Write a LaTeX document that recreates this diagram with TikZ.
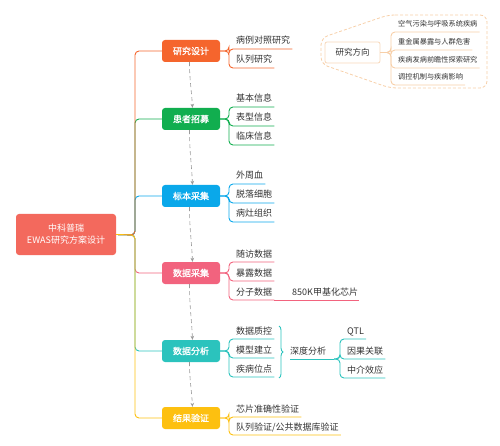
\documentclass[tikz,border=0pt]{standalone}
\usepackage{fontspec}
\setmainfont{Noto Sans CJK SC}
\newfontfamily\boxfont[FakeBold=1.2]{Noto Sans CJK SC}
\usetikzlibrary{decorations.pathreplacing,arrows.meta,calc}
\definecolor{rootc}{HTML}{F3695D}
\definecolor{orangec}{HTML}{F5652D}
\definecolor{greenc}{HTML}{11AE4F}
\definecolor{bluec}{HTML}{0AA8EA}
\definecolor{pinkc}{HTML}{F2637E}
\definecolor{tealc}{HTML}{2BC3BD}
\definecolor{yellowc}{HTML}{FDC010}
\definecolor{txt}{HTML}{333333}
\definecolor{flowgray}{HTML}{9A9A9A}
\definecolor{calline}{HTML}{F7CFA8}
\definecolor{calbox}{HTML}{F8D8BA}
\tikzset{
  mainbox/.style={rounded corners=3pt, minimum width=58pt, minimum height=22pt, inner sep=0pt, text=white, font=\boxfont\fontsize{9}{10}\selectfont},
  rootbox/.style={rounded corners=3pt, fill=rootc, minimum width=100pt, minimum height=41pt, inner sep=0pt, text=white, align=center, font=\fontsize{9}{12}\selectfont},
  leaftext/.style={inner sep=0pt, anchor=base west, text=txt, font=\fontsize{9}{10}\selectfont},
  smalltext/.style={inner sep=0pt, anchor=base west, text=txt, font=\fontsize{7.2}{8}\selectfont},
  conn/.style={line width=0.9pt, rounded corners=4pt},
  flow/.style={draw=flowgray, dash pattern=on 4pt off 3pt, line width=0.6pt, -{Stealth[length=4pt,width=3.5pt]}},
}
% parent, name, forkx, u, color, style, text
\newcommand\leafitem[7]{%
  \node[#6] (#2) at (#3+7,#4-5) {#7};
  \draw[conn,draw=#5] (#1.east) -| (#3,#4) -- ($(#2.east |- #3,#4)+(2,0)$);
}
\begin{document}
\begin{tikzpicture}[x=1pt,y=-1pt]
\useasboundingbox (0,0) rectangle (500,446);

% root
\node[rootbox] (root) at (66,234.5) {中科普瑞\\EWAS研究方案设计};

% level-1 boxes
\node[mainbox, fill=orangec] (yj) at (191,51) {研究设计};
\node[mainbox, fill=greenc] (hz) at (191,119) {患者招募};
\node[mainbox, fill=bluec] (bb) at (191,196) {标本采集};
\node[mainbox, fill=pinkc] (sc) at (191,273) {数据采集};
\node[mainbox, fill=tealc] (fx) at (191,351) {数据分析};
\node[mainbox, fill=yellowc] (yz) at (191,418) {结果验证};

% root connectors
\draw[conn,draw=greenc] (root.east) -- (135,235) |- (hz.west);
\draw[conn,draw=bluec] (root.east) -- (135,235) |- (bb.west);
\draw[conn,draw=pinkc] (root.east) -- (135,235) |- (sc.west);
\draw[conn,draw=tealc] (root.east) -- (135,235) |- (fx.west);
\draw[conn,draw=orangec] (root.east) -- (135,235) |- (yj.west);
\draw[conn,draw=yellowc] (root.east) -- (135,235) |- (yz.west);

% flow arrows
\draw[flow] ([xshift=-1.5pt]yj.south) .. controls +(0,18) and +(-1,-18) .. ([xshift=1.5pt]hz.north);
\draw[flow] ([xshift=-1.5pt]hz.south) .. controls +(0,22) and +(-1,-22) .. ([xshift=1.5pt]bb.north);
\draw[flow] ([xshift=-1.5pt]bb.south) .. controls +(0,22) and +(-1,-22) .. ([xshift=1.5pt]sc.north);
\draw[flow] ([xshift=-1.5pt]sc.south) .. controls +(0,22) and +(-1,-22) .. ([xshift=1.5pt]fx.north);
\draw[flow] ([xshift=-1.5pt]fx.south) .. controls +(0,18) and +(-1,-18) .. ([xshift=1.5pt]yz.north);

% leaves
\leafitem{yj}{yj1}{229}{49}{orangec}{leaftext}{病例对照研究}
\leafitem{yj}{yj2}{229}{68}{orangec}{leaftext}{队列研究}

\leafitem{hz}{hz1}{229}{107}{greenc}{leaftext}{基本信息}
\leafitem{hz}{hz2}{229}{126}{greenc}{leaftext}{表型信息}
\leafitem{hz}{hz3}{229}{145}{greenc}{leaftext}{临床信息}

\leafitem{bb}{bb1}{229}{184}{bluec}{leaftext}{外周血}
\leafitem{bb}{bb2}{229}{203}{bluec}{leaftext}{脱落细胞}
\leafitem{bb}{bb3}{229}{222}{bluec}{leaftext}{病灶组织}

\leafitem{sc}{sc1}{229}{262}{pinkc}{leaftext}{随访数据}
\leafitem{sc}{sc2}{229}{281}{pinkc}{leaftext}{暴露数据}
\leafitem{sc}{sc3}{229}{300}{pinkc}{leaftext}{分子数据}
\node[leaftext] (chip) at (292,295) {850K甲基化芯片};
\draw[conn,draw=pinkc] ($(sc3.east |- 229,300)+(2,0)$) -- ($(chip.east |- 229,300)+(1,0)$);

\leafitem{fx}{fx1}{229}{339}{tealc}{leaftext}{数据质控}
\leafitem{fx}{fx2}{229}{358}{tealc}{leaftext}{模型建立}
\leafitem{fx}{fx3}{229}{377}{tealc}{leaftext}{疾病位点}
\draw[decorate, decoration={brace, amplitude=4pt}, draw=tealc, line width=0.9pt] (279,326) -- (279,378);
\node[leaftext] (sd) at (290,354) {深度分析};
\coordinate (sdj) at (334,359);
\draw[conn,draw=tealc] (sd.base west |- 290,359) -- (sdj);
\leafitem{sdj}{sd1}{340}{339}{tealc}{leaftext}{QTL}
\leafitem{sdj}{sd2}{340}{359}{tealc}{leaftext}{因果关联}
\leafitem{sdj}{sd3}{340}{378}{tealc}{leaftext}{中介效应}

\leafitem{yz}{yz1}{229}{417}{yellowc}{leaftext}{芯片准确性验证}
\leafitem{yz}{yz2}{229}{435}{yellowc}{leaftext}{队列验证/公共数据库验证}

% callout
\draw[draw=calline, dash pattern=on 3pt off 2pt, line width=0.8pt, rounded corners=7pt]
  (388,15) -- (487,15) -- (487,88) -- (390,88) -- (321,64) -- (321,38) -- cycle;
\node[draw=calbox, fill=white, line width=0.8pt, rounded corners=2pt, minimum width=55pt, minimum height=21pt, inner sep=0pt, text=txt, font=\fontsize{8.5}{10}\selectfont] (fx0) at (352.5,52.5) {研究方向};
\leafitem{fx0}{c1}{391}{32}{calline}{smalltext}{空气污染与呼吸系统疾病}
\leafitem{fx0}{c2}{391}{50}{calline}{smalltext}{重金属暴露与人群危害}
\leafitem{fx0}{c3}{391}{68}{calline}{smalltext}{疾病发病前瞻性探索研究}
\leafitem{fx0}{c4}{391}{85}{calline}{smalltext}{调控机制与疾病影响}
\end{tikzpicture}
\end{document}
